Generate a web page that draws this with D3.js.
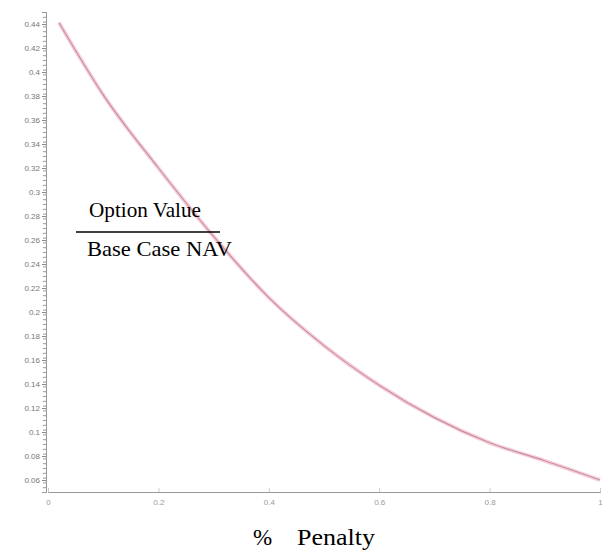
<!DOCTYPE html>
<html><head><meta charset="utf-8">
<script src="https://cdn.jsdelivr.net/npm/d3@7"></script>
<style>body{margin:0;background:#fff}</style>
</head><body>
<svg id="c" width="608" height="550"></svg>
<script>
const penalty = [0.02, 0.1, 0.2, 0.3, 0.4, 0.5, 0.6, 0.7, 0.8, 0.9, 1.0];
const optionValue = [0.441, 0.381, 0.320, 0.263, 0.212, 0.172, 0.139, 0.112, 0.091, 0.076, 0.060];
const xTicks = [0, 0.2, 0.4, 0.6, 0.8, 1];
const xTickLabels = ["0", "0.2", "0.4", "0.6", "0.8", "1"];
const yTicks = [0.06,0.08,0.1,0.12,0.14,0.16,0.18,0.2,0.22,0.24,0.26,0.28,0.3,0.32,0.34,0.36,0.38,0.4,0.42,0.44];
const yTickLabels = ["0.06","0.08","0.1","0.12","0.14","0.16","0.18","0.2","0.22","0.24","0.26","0.28","0.3","0.32","0.34","0.36","0.38","0.4","0.42","0.44"];

const svg = d3.select("#c");
const x = d3.scaleLinear().domain([0, 1]).range([48, 600]);
const y = d3.scaleLinear().domain([0.05, 0.45]).range([492, 12]);

// y minor ticks
const minor = d3.range(0.05, 0.4501, 0.004);
svg.append("g").attr("transform","translate(46,0)")
  .call(d3.axisLeft(y).tickValues(minor).tickSize(3).tickFormat(""))
  .call(g=>g.selectAll("line,path").attr("stroke","#999"));
// y major
svg.append("g").attr("transform","translate(46,0)")
  .call(d3.axisLeft(y).tickValues(yTicks).tickSize(4).tickPadding(2)
        .tickFormat((d,i)=>yTickLabels[i]))
  .call(g=>g.select("path").attr("stroke","#999"))
  .call(g=>g.selectAll("line").attr("stroke","#888"))
  .call(g=>g.selectAll("text").attr("font-family","Liberation Sans, Arial").attr("font-size",8).attr("fill","#777"));

// x axis
svg.append("g").attr("transform","translate(0,492)")
  .call(d3.axisBottom(x).tickValues(xTicks).tickSize(-4).tickPadding(7)
        .tickFormat((d,i)=>xTickLabels[i]))
  .call(g=>g.select("path").attr("stroke","#999"))
  .call(g=>g.selectAll("line").attr("stroke","#ccc"))
  .call(g=>g.selectAll("text").attr("font-family","Liberation Sans, Arial").attr("font-size",8).attr("fill","#999"));

// curve
const line = d3.line().x((d,i)=>x(penalty[i])).y(d=>y(d)).curve(d3.curveMonotoneX);
svg.append("path").datum(optionValue).attr("d",line)
  .attr("fill","none").attr("stroke","#f7d0da").attr("stroke-width",4);
svg.append("path").datum(optionValue).attr("d",line)
  .attr("fill","none").attr("stroke","#c88ea0").attr("stroke-width",1.2);

// fraction label
const serif = "Liberation Serif, Times New Roman, serif";
svg.append("text").attr("x",89).attr("y",217).attr("font-family",serif).attr("font-size",21)
  .attr("textLength",112).attr("lengthAdjust","spacingAndGlyphs").text("Option Value");
svg.append("line").attr("x1",76).attr("x2",220).attr("y1",232).attr("y2",232).attr("stroke","#000").attr("stroke-width",1.5);
svg.append("text").attr("x",87).attr("y",256).attr("font-family",serif).attr("font-size",21)
  .attr("textLength",145).attr("lengthAdjust","spacingAndGlyphs").text("Base Case NAV");

// x title
svg.append("text").attr("x",253).attr("y",545).attr("font-family",serif).attr("font-size",23).text("%");
svg.append("text").attr("x",297).attr("y",545).attr("font-family",serif).attr("font-size",23)
  .attr("textLength",78).attr("lengthAdjust","spacingAndGlyphs").text("Penalty");
</script>
</body></html>
